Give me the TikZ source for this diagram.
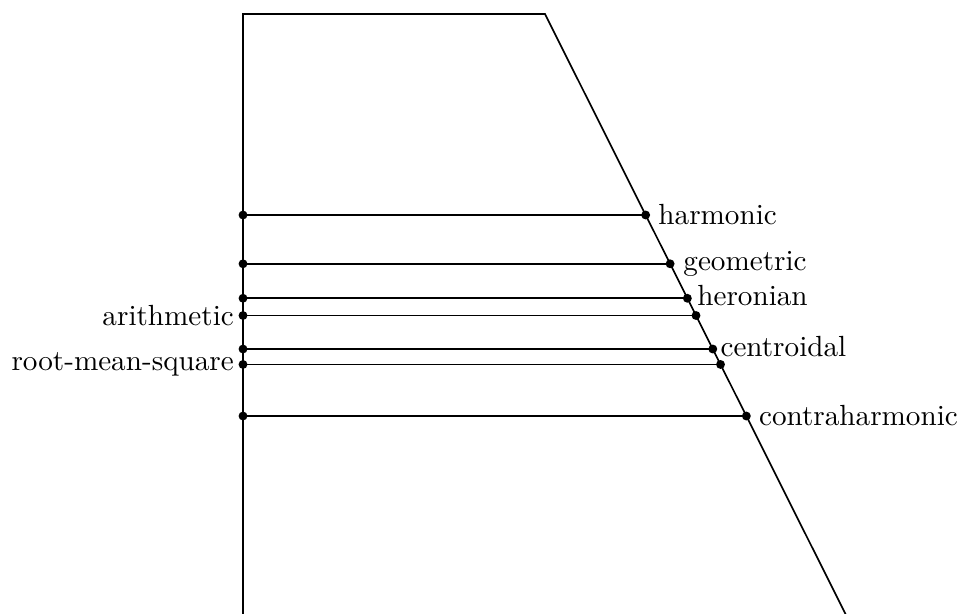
\documentclass[tikz,border=0pt]{standalone}
\begin{document}
\begin{tikzpicture}[x=0.36pt,y=-0.36pt,line width=0.6pt,
  dot/.style={circle,fill,inner sep=0pt,minimum size=3.2pt},
  lab/.style={font=\fontsize{10.5}{12.5}\selectfont,inner sep=1.5pt}]
\useasboundingbox (0,0) rectangle (959,613);
\clip (0,0) rectangle (959,613);
% trapezoid: a=302, b=604, top y=14, height 603
\coordinate (TL) at (243,14);
\coordinate (TR) at (545,14);
\coordinate (BL) at (243,617);
\coordinate (BR) at (848,619);
\draw (BL) -- (TL) -- (TR) -- (BR);
\foreach \name/\r in {
  har/1.333333,
  geo/1.414214,
  her/1.471405,
  ari/1.5,
  cen/1.555556,
  rms/1.581139,
  con/1.666667}{
  \pgfmathsetmacro{\yy}{14+603*(\r-1)}
  \pgfmathsetmacro{\xx}{243+302*\r}
  \coordinate (L\name) at (243,\yy);
  \coordinate (R\name) at (\xx,\yy);
  \draw (L\name) -- (R\name);
  \node[dot] at (L\name) {};
  \node[dot] at (R\name) {};
}
\node[lab,anchor=west] (thar) at ([xshift=2.8pt]Rhar) {harmonic};
\node[lab,anchor=west] (tgeo) at ([xshift=3pt]Rgeo) {geometric};
\node[lab,anchor=west] (ther) at ([xshift=1.8pt,yshift=1pt]Rher) {heronian};
\node[lab,anchor=west] (tcen) at ([xshift=1pt,yshift=1pt]Rcen) {centroidal};
\node[lab,anchor=west] (tcon) at ([xshift=2.8pt]Rcon) {contraharmonic};
\node[lab,anchor=east] (tari) at ([xshift=-1.5pt]Lari) {arithmetic};
\node[lab,anchor=east] (trms) at ([xshift=-1.5pt]Lrms) {root-mean-square};
\end{tikzpicture}
\end{document}
